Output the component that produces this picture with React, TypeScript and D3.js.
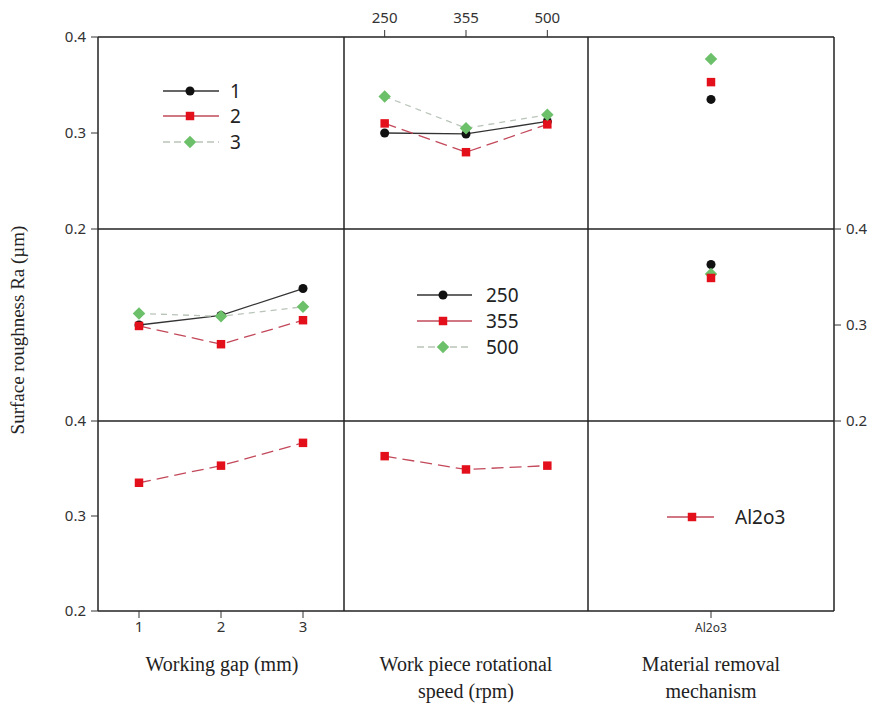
import React from 'react';
import * as d3 from 'd3';

// factor levels
const gapLevels = ['1', '2', '3'];
const speedLevels = ['250', '355', '500'];
const materialLevels = ['Al2o3'];
const yTicks = [0.2, 0.3, 0.4];

// mean Ra (µm), working gap (row) x rotational speed (col)
const raGap1 = [0.300, 0.299, 0.312];
const raGap2 = [0.310, 0.280, 0.309];
const raGap3 = [0.338, 0.305, 0.319];
// mean Ra for Al2o3 by gap / by speed
const raAl2o3ByGap = [0.335, 0.353, 0.377];
const raAl2o3BySpeed = [0.363, 0.349, 0.353];

const W = 875;
const H = 704;
const colX = [98, 344, 588, 834];
const rowY = [37, 229, 421, 611];

const styles = [
  { color: '#111', line: '#333', dash: '', legDash: '', shape: d3.symbolCircle, size: 64, rot: 0 },
  { color: '#e3101c', line: '#c2485a', dash: '12,6', legDash: '', shape: d3.symbolSquare, size: 72, rot: 0 },
  { color: '#6cc06a', line: '#b9c4b9', dash: '6,5', legDash: '7,4', shape: d3.symbolSquare, size: 78, rot: 45 },
];

const tickFont = '"Noto Sans", "DejaVu Sans", sans-serif';
const serif = '"Liberation Serif", "DejaVu Serif", serif';

function xScale(col: number, levels: string[]) {
  return d3.scalePoint().domain(levels).range([colX[col], colX[col + 1]]).padding(0.5);
}
function yScale(row: number) {
  return d3.scaleLinear().domain([0.2, 0.4]).range([rowY[row + 1], rowY[row]]);
}

function Marker({ x, y, s }: { x: number; y: number; s: number }) {
  const st = styles[s];
  const p = d3.symbol().type(st.shape).size(st.size)();
  return <path d={p || ''} transform={`translate(${x},${y}) rotate(${st.rot})`} fill={st.color} />;
}

function Series({ row, col, levels, values, s }: any) {
  const x = xScale(col, levels);
  const y = yScale(row);
  const st = styles[s];
  const line = d3.line<number>().x((_, i) => x(levels[i])!).y(d => y(d));
  return (
    <g>
      {values.length > 1 && (
        <path d={line(values) || ''} fill="none" stroke={st.line} strokeWidth={1.3} strokeDasharray={st.dash} />
      )}
      {values.map((v: number, i: number) => (
        <Marker key={i} x={x(levels[i])!} y={y(v)} s={s} />
      ))}
    </g>
  );
}

function Legend({ x0, x1, xm, xt, ys, labels, idx }: any) {
  return (
    <g>
      {labels.map((lab: string, i: number) => {
        const st = styles[idx[i]];
        return (
          <g key={lab}>
            <line x1={x0} x2={x1} y1={ys[i]} y2={ys[i]} stroke={st.line} strokeWidth={1.5} strokeDasharray={st.legDash} />
            <Marker x={xm} y={ys[i]} s={idx[i]} />
            <text x={xt} y={ys[i]} dy="0.36em" fontSize={19} fontFamily={tickFont} fill="#222">{lab}</text>
          </g>
        );
      })}
    </g>
  );
}

function YAxis({ row, side }: { row: number; side: 'left' | 'right' }) {
  const y = yScale(row);
  const x = side === 'left' ? colX[0] : colX[3];
  const dir = side === 'left' ? -1 : 1;
  return (
    <g>
      {yTicks.map(t => (
        <g key={t}>
          <line x1={x} x2={x + dir * 7} y1={y(t)} y2={y(t)} stroke="#333" strokeWidth={1} />
          <text x={x + dir * 12} y={y(t)} dy="0.36em" textAnchor={side === 'left' ? 'end' : 'start'}
            fontSize={15} fontFamily={tickFont} fill="#333">{t.toFixed(1)}</text>
        </g>
      ))}
    </g>
  );
}

function XAxis({ col, levels, side, fontSize }: any) {
  const x = xScale(col, levels);
  const y = side === 'top' ? rowY[0] : rowY[3];
  const dir = side === 'top' ? -1 : 1;
  return (
    <g>
      {levels.map((l: string) => (
        <g key={l}>
          <line x1={x(l)} x2={x(l)} y1={y} y2={y + dir * 7} stroke="#333" strokeWidth={1} />
          <text x={x(l)} y={side === 'top' ? y - 14 : y + 21} textAnchor="middle"
            fontSize={fontSize} fontFamily={tickFont} fill="#333">{l}</text>
        </g>
      ))}
    </g>
  );
}

export default function App() {
  const bySpeed = [raGap1, raGap2, raGap3];
  const byGap = speedLevels.map((_, j) => bySpeed.map(r => r[j]));
  return (
    <div style={{ position: 'absolute', left: 0, top: 0 }}>
      <svg width={W} height={H} style={{ display: 'block', background: '#fff' }}>
        {/* row 1: lines by working gap */}
        {bySpeed.map((vals, i) => (
          <Series key={'r1' + i} row={0} col={1} levels={speedLevels} values={vals} s={i} />
        ))}
        {raAl2o3ByGap.map((v, i) => (
          <Series key={'r1c3' + i} row={0} col={2} levels={materialLevels} values={[v]} s={i} />
        ))}
        <Legend x0={163} x1={219} xm={190} xt={230} ys={[91, 116, 142]} labels={gapLevels} idx={[0, 1, 2]} />

        {/* row 2: lines by rotational speed */}
        {byGap.map((vals, i) => (
          <Series key={'r2' + i} row={1} col={0} levels={gapLevels} values={vals} s={i} />
        ))}
        {[0, 2, 1].map(i => (
          <Series key={'r2c3' + i} row={1} col={2} levels={materialLevels} values={[raAl2o3BySpeed[i]]} s={i} />
        ))}
        <Legend x0={417} x1={472} xm={443} xt={486} ys={[295, 321, 347]} labels={speedLevels} idx={[0, 1, 2]} />

        {/* row 3: material */}
        <Series row={2} col={0} levels={gapLevels} values={raAl2o3ByGap} s={1} />
        <Series row={2} col={1} levels={speedLevels} values={raAl2o3BySpeed} s={1} />
        <Legend x0={667} x1={714} xm={692} xt={735} ys={[517]} labels={materialLevels} idx={[1]} />

        {/* panel grid */}
        {colX.map((x, i) => (
          <line key={'v' + i} x1={x} x2={x} y1={rowY[0]} y2={rowY[3]} stroke="#222" strokeWidth={1.5} />
        ))}
        {rowY.map((y, i) => (
          <line key={'h' + i} x1={colX[0]} x2={colX[3]} y1={y} y2={y} stroke="#222" strokeWidth={1.5} />
        ))}

        <YAxis row={0} side="left" />
        <YAxis row={1} side="right" />
        <YAxis row={2} side="left" />
        <XAxis col={1} levels={speedLevels} side="top" fontSize={15} />
        <XAxis col={0} levels={gapLevels} side="bottom" fontSize={15} />
        <XAxis col={2} levels={materialLevels} side="bottom" fontSize={12} />

        <text transform="translate(24,330) rotate(-90)" textAnchor="middle" fontSize={19} fontFamily={serif} fill="#222">
          Surface roughness Ra (µm)
        </text>
        <text x={222} y={671} textAnchor="middle" fontSize={20} fontFamily={serif} fill="#222">Working gap (mm)</text>
        <text x={466} y={671} textAnchor="middle" fontSize={20} fontFamily={serif} fill="#222">Work piece rotational</text>
        <text x={466} y={698} textAnchor="middle" fontSize={20} fontFamily={serif} fill="#222">speed (rpm)</text>
        <text x={711} y={671} textAnchor="middle" fontSize={20} fontFamily={serif} fill="#222">Material removal</text>
        <text x={711} y={698} textAnchor="middle" fontSize={20} fontFamily={serif} fill="#222">mechanism</text>
      </svg>
    </div>
  );
}
